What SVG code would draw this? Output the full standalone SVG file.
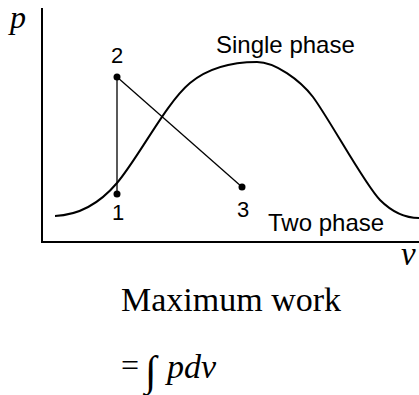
<svg xmlns="http://www.w3.org/2000/svg" width="419" height="395" viewBox="0 0 419 395">
<style>
.ax{stroke:#000;stroke-width:2;fill:none}
.ln{stroke:#000;stroke-width:1.3;fill:none}
.cv{stroke:#000;stroke-width:2;fill:none}
.lb{font-family:"Liberation Sans",Arial,sans-serif;font-size:24px;fill:#000}
.dg{font-family:"Liberation Sans",Arial,sans-serif;font-size:22px;fill:#000;text-anchor:middle}
.tm{font-family:"Liberation Serif","Times New Roman",serif;fill:#000}
.it{font-style:italic}
</style>
<rect width="419" height="395" fill="#fff"/>
<g id="axes">
<path class="ax" d="M42,8 V242 H419"/>
<text class="tm it" x="10" y="28" font-size="32">p</text>
<text class="tm it" x="401" y="265" font-size="33">v</text>
</g>
<g id="dome">
<path class="cv" d="M55,216 C80,215 100,203 117,183 C139,157 166,103 190,83 C210,66.5 235,62 257,62 C275,62 300,80 313,97 C330,120 365,185 380,200 C392,212 405,218 419,218"/>
<text class="lb" x="216" y="53">Single phase</text>
<text class="lb" x="268" y="231">Two phase</text>
</g>
<g id="connectors">
<line class="ln" x1="117" y1="77" x2="117" y2="194"/>
<line class="ln" x1="117" y1="77" x2="242" y2="187"/>
</g>
<g id="p1"><circle cx="117" cy="194" r="3.5"/><text class="dg" x="118" y="220">1</text></g>
<g id="p2"><circle cx="117" cy="77" r="3.5"/><text class="dg" x="117" y="63">2</text></g>
<g id="p3"><circle cx="242" cy="187" r="3.5"/><text class="dg" x="243" y="217">3</text></g>
<g id="formula">
<text class="tm" x="121" y="311" font-size="34">Maximum work</text>
<text class="tm" x="121" y="376" font-size="32">=</text>
<text class="tm" x="145" y="385" font-size="42">∫</text>
<text class="tm it" x="167" y="378" font-size="34">pdv</text>
</g>
</svg>
